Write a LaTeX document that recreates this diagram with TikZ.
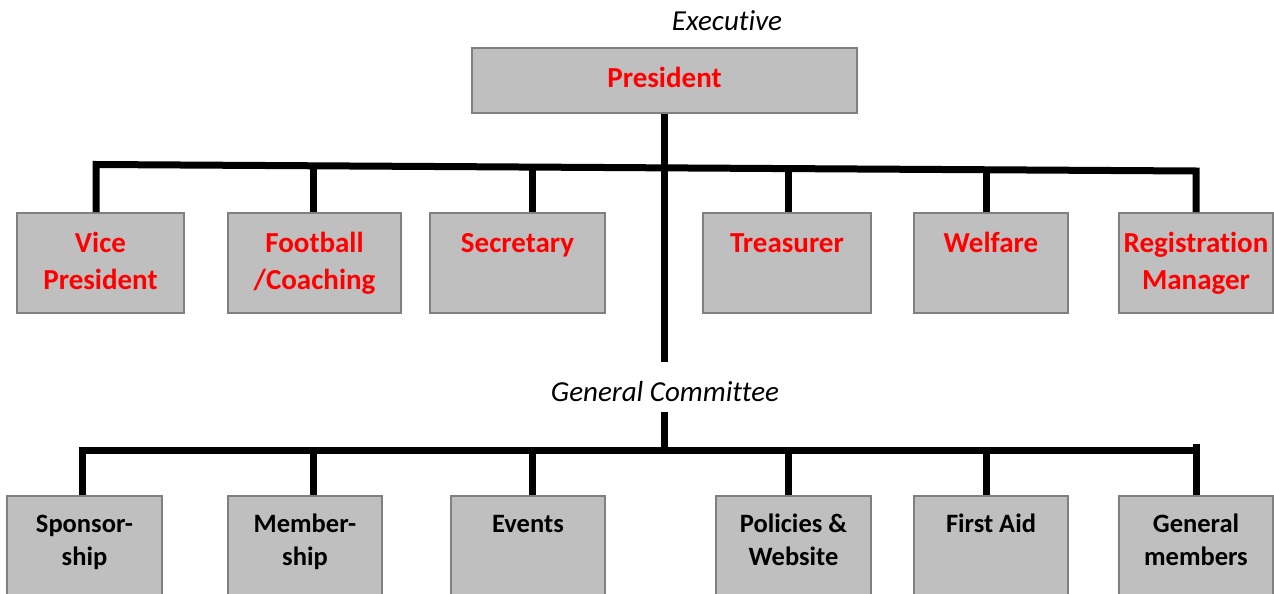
\documentclass[tikz,border=0pt]{standalone}
\usepackage{fontspec}
\setmainfont{Carlito}[Ligatures=NoCommon]
\definecolor{boxfill}{RGB}{191,191,191}
\definecolor{boxline}{RGB}{128,128,128}
\newcommand\boxlines[1]{\begin{tabular}[t]{@{}c@{}}#1\end{tabular}}
\begin{document}
\begin{tikzpicture}[x=1pt,y=-1pt,
  unitbox/.style={draw=boxline, fill=boxfill, line width=2pt, inner sep=0pt},
  wire/.style={line width=7pt, line join=miter},
  redtitle/.style={text=red, font=\bfseries\fontsize{29}{37}\selectfont, anchor=base, inner sep=0pt},
  blacktitle/.style={text=black, font=\bfseries\fontsize{26.5}{33}\selectfont, anchor=base, inner sep=0pt},
  heading/.style={font=\itshape\fontsize{29}{34}\selectfont, anchor=base, inner sep=0pt}]
\useasboundingbox (0,0) rectangle (1274,594);
\begin{scope}
\clip (0,0) rectangle (1274,594);

% ---------- executive ----------
\node[heading] (exec) at (727,31) {Executive};
\node[unitbox, minimum width=385pt, minimum height=65pt] (pres) at (664.5,80.5) {};
\node[redtitle] (pres-t) at (664.5,87) {President};

% executive officers
\node[unitbox, minimum width=167pt, minimum height=100pt] (vp)  at (100.5,263) {};
\node[unitbox, minimum width=173pt, minimum height=100pt] (fc)  at (314.5,263) {};
\node[unitbox, minimum width=175pt, minimum height=100pt] (sec) at (517.5,263) {};
\node[unitbox, minimum width=168pt, minimum height=100pt] (tr)  at (787,263) {};
\node[unitbox, minimum width=154pt, minimum height=100pt] (wel) at (991,263) {};
\node[unitbox, minimum width=154pt, minimum height=100pt] (rm)  at (1196,263) {};

\node[redtitle] (vp-t)  at (100.5,252) {\boxlines{Vice\\President}};
\node[redtitle] (fc-t)  at (314.5,252) {\boxlines{Football\\/Coaching}};
\node[redtitle] (sec-t) at (517.5,252) {Secretary};
\node[redtitle] (tr-t)  at (787,252) {Treasurer};
\node[redtitle] (wel-t) at (991,252) {Welfare};
\node[redtitle] (rm-t)  at (1196,252) {\boxlines{Registration\\Manager}};

% ---------- general committee ----------
\node[heading] (gc) at (665,401) {General Committee};

\node[unitbox, minimum width=155pt, minimum height=120pt] (sp)  at (84.5,556) {};
\node[unitbox, minimum width=154pt, minimum height=120pt] (mem) at (305,556) {};
\node[unitbox, minimum width=154pt, minimum height=120pt] (ev)  at (528,556) {};
\node[unitbox, minimum width=155pt, minimum height=120pt] (pw)  at (793.5,556) {};
\node[unitbox, minimum width=154pt, minimum height=120pt] (fa)  at (991,556) {};
\node[unitbox, minimum width=154pt, minimum height=120pt] (gm)  at (1196,556) {};

\node[blacktitle] (sp-t)  at (84.5,532) {\boxlines{Sponsor-\\ship}};
\node[blacktitle] (mem-t) at (305,532) {\boxlines{Member-\\ship}};
\node[blacktitle] (ev-t)  at (528,532) {Events};
\node[blacktitle] (pw-t)  at (793.5,532) {\boxlines{Policies \&\\Website}};
\node[blacktitle] (fa-t)  at (991,532) {First Aid};
\node[blacktitle] (gm-t)  at (1196,532) {\boxlines{General\\members}};

% ---------- connectors ----------
% upper bar, running slightly downhill to the right
\coordinate (ub-l) at (96,164.5);
\coordinate (ub-r) at (1196,171);
\coordinate (ub-fc)  at (313,165.8);
\coordinate (ub-sec) at (532,167.1);
\coordinate (ub-tr)  at (788,168.6);
\coordinate (ub-wel) at (986,169.8);
\coordinate (trunk-end) at (664,362);

% lower bar
\coordinate (lb-l) at (82,450);
\coordinate (lb-r) at (1196,450);
\coordinate (lb-top) at (1196,444);
\coordinate (gc-top) at (664,412);
\coordinate (gc-bar) at (664,450);

\draw[wire] (vp.north -| ub-l) -- (ub-l) -- (ub-r) -- (rm.north);
\draw[wire] (pres.south -| trunk-end) -- (trunk-end);
\draw[wire] (ub-fc)  -- (ub-fc |- fc.north);
\draw[wire] (ub-sec) -- (ub-sec |- sec.north);
\draw[wire] (ub-tr)  -- (ub-tr |- tr.north);
\draw[wire] (ub-wel) -- (ub-wel |- wel.north);

\draw[wire] (sp.north -| lb-l) -- (lb-l) -- (lb-r);
\draw[wire] (lb-top) -- (gm.north);
\draw[wire] (gc-top) -- (gc-bar);
\draw[wire] (313,450) -- (mem.north -| 313,0);
\draw[wire] (532,450) -- (ev.north -| 532,0);
\draw[wire] (788,450) -- (pw.north -| 788,0);
\draw[wire] (986,450) -- (fa.north -| 986,0);
\end{scope}
\end{tikzpicture}
\end{document}
